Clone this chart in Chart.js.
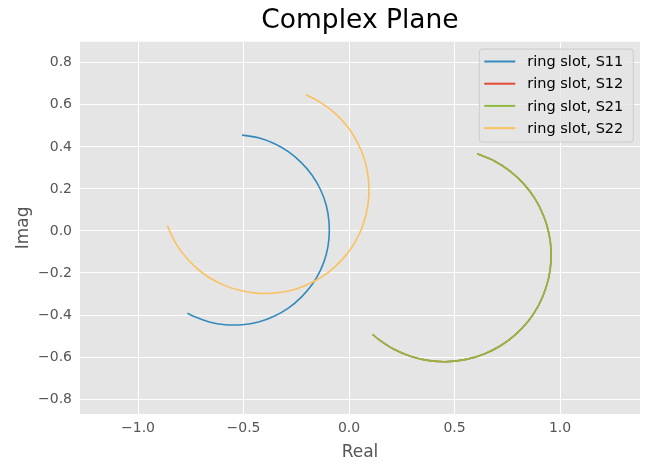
<!DOCTYPE html>
<html>
<head>
<meta charset="utf-8">
<script src="https://cdn.jsdelivr.net/npm/chart.js@4.4.1/dist/chart.umd.min.js"></script>
<style>
  html, body { margin: 0; padding: 0; background: #fff; }
  #wrap { width: 652px; height: 473px; }
</style>
</head>
<body>
<div id="wrap"><canvas id="myChart"></canvas></div>
<script>
// values (real / imag parts)
const s11Re = [-0.507, -0.429, -0.355, -0.286, -0.226, -0.175, -0.135, -0.108, -0.095, -0.095, -0.108,
               -0.135, -0.175, -0.226, -0.286, -0.355, -0.429, -0.507, -0.586, -0.663, -0.737, -0.766];
const s11Im = [0.456, 0.443, 0.416, 0.376, 0.325, 0.265, 0.196, 0.122, 0.044, -0.035, -0.112,
               -0.186, -0.255, -0.315, -0.366, -0.406, -0.433, -0.446, -0.446, -0.433, -0.406, -0.391];

const s21Re = [0.608, 0.689, 0.763, 0.828, 0.881, 0.921, 0.947, 0.958, 0.953, 0.933, 0.899,
               0.851, 0.790, 0.720, 0.641, 0.556, 0.469, 0.380, 0.294, 0.213, 0.139, 0.112];
const s21Im = [0.367, 0.333, 0.285, 0.224, 0.154, 0.075, -0.010, -0.097, -0.186, -0.272, -0.353,
               -0.427, -0.492, -0.545, -0.585, -0.611, -0.622, -0.617, -0.597, -0.563, -0.515, -0.492];

// S12 lies exactly under S21
const s12Re = [0.608, 0.689, 0.763, 0.828, 0.881, 0.921, 0.947, 0.958, 0.953, 0.933, 0.899,
               0.851, 0.790, 0.720, 0.641, 0.556, 0.469, 0.380, 0.294, 0.213, 0.139, 0.112];
const s12Im = [0.367, 0.333, 0.285, 0.224, 0.154, 0.075, -0.010, -0.097, -0.186, -0.272, -0.353,
               -0.427, -0.492, -0.545, -0.585, -0.611, -0.622, -0.617, -0.597, -0.563, -0.515, -0.492];

const s22Re = [-0.205, -0.130, -0.062, -0.004, 0.041, 0.074, 0.091, 0.094, 0.082, 0.056, 0.016, -0.037,
               -0.101, -0.174, -0.254, -0.338, -0.424, -0.509, -0.591, -0.667, -0.734, -0.792, -0.837, -0.861];
const s22Im = [0.649, 0.608, 0.556, 0.492, 0.419, 0.339, 0.255, 0.169, 0.084, 0.002, -0.074, -0.141,
               -0.199, -0.244, -0.277, -0.294, -0.297, -0.285, -0.259, -0.219, -0.166, -0.102, -0.029, 0.026];

const labels = ['ring slot, S11', 'ring slot, S12', 'ring slot, S21', 'ring slot, S22'];
const colors = ['#348ABD', '#E24A33', '#8EBA42', '#FBC15E'];

const xTickStep = 0.5;
const yTickStep = 0.2;

function pts(re, im) {
    return re.map((v, i) => ({ x: v, y: im[i] }));
}

function fmt(v) {
    return v.toFixed(1).replace('-', '\u2212');
}

const FONT = "'DejaVu Sans', sans-serif";

// grey plot background, like matplotlib's ggplot style
const plotBg = {
    id: 'plotBg',
    beforeDraw(chart) {
        const { ctx, chartArea: a } = chart;
        ctx.save();
        ctx.fillStyle = '#E5E5E5';
        ctx.fillRect(a.left, a.top, a.right - a.left, a.bottom - a.top);
        ctx.restore();
    }
};

// legend box inside the plot, top right
const innerLegend = {
    id: 'innerLegend',
    afterDraw(chart) {
        const { ctx, chartArea: a } = chart;
        const w = 154, h = 93, rowH = 22.2;
        const x0 = a.right - 6.7 - w, y0 = a.top + 7.3;
        ctx.save();
        ctx.beginPath();
        ctx.roundRect(x0, y0, w, h, 3);
        ctx.fillStyle = 'rgba(229,229,229,0.8)';
        ctx.fill();
        ctx.strokeStyle = '#CCCCCC';
        ctx.lineWidth = 1;
        ctx.stroke();
        ctx.font = "14.5px " + FONT;
        ctx.textBaseline = 'middle';
        ctx.fillStyle = '#000';
        chart.data.datasets.forEach((ds, i) => {
            const y = y0 + 12.4 + i * rowH;
            ctx.beginPath();
            ctx.moveTo(x0 + 5, y);
            ctx.lineTo(x0 + 36, y);
            ctx.strokeStyle = ds.borderColor;
            ctx.lineWidth = 2;
            ctx.stroke();
            ctx.fillText(ds.label, x0 + 48, y + 1);
        });
        ctx.restore();
    }
};

const ctx = document.getElementById('myChart').getContext('2d');

new Chart(ctx, {
    type: 'scatter',
    data: {
        datasets: [
            { label: labels[0], data: pts(s11Re, s11Im), borderColor: colors[0], order: 4 },
            { label: labels[1], data: pts(s12Re, s12Im), borderColor: colors[1], order: 3 },
            { label: labels[2], data: pts(s21Re, s21Im), borderColor: colors[2], order: 2 },
            { label: labels[3], data: pts(s22Re, s22Im), borderColor: colors[3], order: 1 }
        ]
    },
    options: {
        responsive: true,
        maintainAspectRatio: false,
        animation: false,
        devicePixelRatio: 1,
        datasets: {
            scatter: {
                showLine: true,
                pointRadius: 0,
                pointHoverRadius: 0,
                borderWidth: 1.6,
                tension: 0.33,
                fill: false
            }
        },
        layout: { padding: { left: 0, right: 12, top: 0, bottom: 0 } },
        scales: {
            x: {
                type: 'linear',
                min: -1.275,
                max: 1.379,
                afterFit(scale) { scale.height = 59; },
                grid: { color: '#FFFFFF', lineWidth: 1, drawTicks: false },
                border: { display: false },
                ticks: {
                    stepSize: xTickStep,
                    includeBounds: false,
                    padding: 6,
                    maxRotation: 0,
                    color: '#555555',
                    font: { family: FONT, size: 14 },
                    callback: (v) => fmt(v)
                },
                title: {
                    display: true,
                    text: 'Real',
                    color: '#555555',
                    font: { family: FONT, size: 17 },
                    padding: { top: 0, bottom: 10 }
                }
            },
            y: {
                type: 'linear',
                min: -0.871,
                max: 0.9,
                afterFit(scale) { scale.width = 80; },
                grid: { color: '#FFFFFF', lineWidth: 1, drawTicks: false },
                border: { display: false },
                ticks: {
                    stepSize: yTickStep,
                    includeBounds: false,
                    padding: 8,
                    color: '#555555',
                    font: { family: FONT, size: 14 },
                    callback: (v) => fmt(v)
                },
                title: {
                    display: true,
                    text: 'Imag',
                    color: '#555555',
                    font: { family: FONT, size: 17 },
                    padding: { top: 13, bottom: 0 }
                }
            }
        },
        plugins: {
            legend: { display: false },
            tooltip: { enabled: false },
            title: {
                display: true,
                fullSize: false,
                text: 'Complex Plane',
                color: '#000000',
                font: { family: FONT, size: 26.5, weight: 'normal', lineHeight: 1.2 },
                padding: { top: 5, bottom: 5 }
            }
        }
    },
    plugins: [plotBg, innerLegend]
});
</script>
</body>
</html>
